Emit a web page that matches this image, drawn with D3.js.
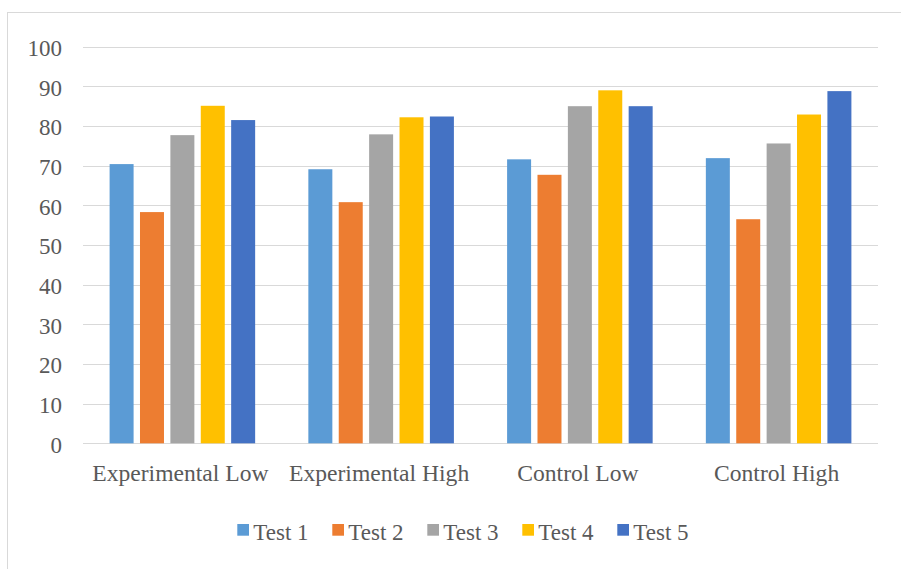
<!DOCTYPE html>
<html>
<head>
<meta charset="utf-8">
<script src="https://cdn.jsdelivr.net/npm/d3@7"></script>
<style>
  html, body { margin: 0; padding: 0; background: #fff; }
  svg { display: block; }
</style>
</head>
<body>
<script>
// Test scores per group
const categories = ["Experimental Low", "Experimental High", "Control Low", "Control High"];
const seriesNames = ["Test 1", "Test 2", "Test 3", "Test 4", "Test 5"];
const test1 = [70.4, 69.1, 71.6, 71.9];
const test2 = [58.3, 60.8, 67.7, 56.5];
const test3 = [77.7, 77.9, 85.0, 75.6];
const test4 = [85.1, 82.2, 89.0, 82.9];
const test5 = [81.5, 82.4, 85.0, 88.8];
const yTicks = [0, 10, 20, 30, 40, 50, 60, 70, 80, 90, 100];
const colors = ["#5B9BD5", "#ED7D31", "#A5A5A5", "#FFC000", "#4472C4"];

const FONT = "'Liberation Serif', 'Times New Roman', Tinos, serif";
const TEXT_COLOR = "#595959";

const seriesValues = [test1, test2, test3, test4, test5];
const rows = categories.map((c, i) => ({
  category: c,
  values: seriesNames.map((s, j) => ({ series: s, value: seriesValues[j][i] }))
}));

const W = 901, H = 569;
const plot = { left: 83, right: 878, top: 46.7, bottom: 443.3 };

const svg = d3.select("body").append("svg").attr("width", W).attr("height", H);

// chart frame
svg.append("rect")
  .attr("x", 7.5).attr("y", 12.5)
  .attr("width", W).attr("height", H)
  .attr("fill", "#fff").attr("stroke", "#d9d9d9").attr("stroke-width", 1);

const y = d3.scaleLinear().domain([0, 100]).range([plot.bottom, plot.top]);
const x0 = d3.scaleBand().domain(categories).range([plot.left, plot.right]).padding(0);
const pad = 26.6;
const x1 = d3.scaleBand().domain(seriesNames)
  .range([pad, x0.bandwidth() - pad])
  .paddingInner(0.2105).paddingOuter(0);
const color = d3.scaleOrdinal().domain(seriesNames).range(colors);

// gridlines
svg.append("g").selectAll("line").data(yTicks).join("line")
  .attr("x1", plot.left).attr("x2", plot.right)
  .attr("y1", d => Math.round(y(d)) + 0.5).attr("y2", d => Math.round(y(d)) + 0.5)
  .attr("stroke", "#d9d9d9").attr("stroke-width", 1);

// y axis labels
const yAxis = svg.append("g")
  .attr("transform", `translate(${plot.left - 21},0)`)
  .call(d3.axisLeft(y).tickValues(yTicks).tickSize(0).tickPadding(0));
yAxis.select(".domain").remove();
yAxis.selectAll("text")
  .style("font-family", FONT).style("font-size", "23px").style("fill", TEXT_COLOR)
  .attr("dy", "0.38em");

// bars
svg.append("g").selectAll("g").data(rows).join("g")
  .attr("transform", d => `translate(${x0(d.category)},0)`)
  .selectAll("rect").data(d => d.values).join("rect")
  .attr("x", d => x1(d.series))
  .attr("width", x1.bandwidth())
  .attr("y", d => y(d.value))
  .attr("height", d => y(0) - y(d.value))
  .attr("fill", d => color(d.series));

// category axis labels
const xAxis = svg.append("g")
  .attr("transform", `translate(-2,${plot.bottom})`)
  .call(d3.axisBottom(x0).tickSize(0).tickPadding(0));
xAxis.select(".domain").remove();
xAxis.selectAll("text")
  .style("font-family", FONT).style("font-size", "23.6px").style("fill", TEXT_COLOR)
  .attr("dy", null).attr("y", 38);

// legend
const legend = svg.append("g").attr("transform", "translate(237.3,0)");
const items = legend.selectAll("g").data(seriesNames).join("g")
  .attr("transform", (d, i) => `translate(${i * 95},0)`);
items.append("rect")
  .attr("x", 0).attr("y", 524).attr("width", 11.7).attr("height", 11.7)
  .attr("fill", d => color(d));
items.append("text")
  .attr("x", 16).attr("y", 540)
  .style("font-family", FONT).style("font-size", "23px").style("fill", TEXT_COLOR)
  .text(d => d);
</script>
</body>
</html>
